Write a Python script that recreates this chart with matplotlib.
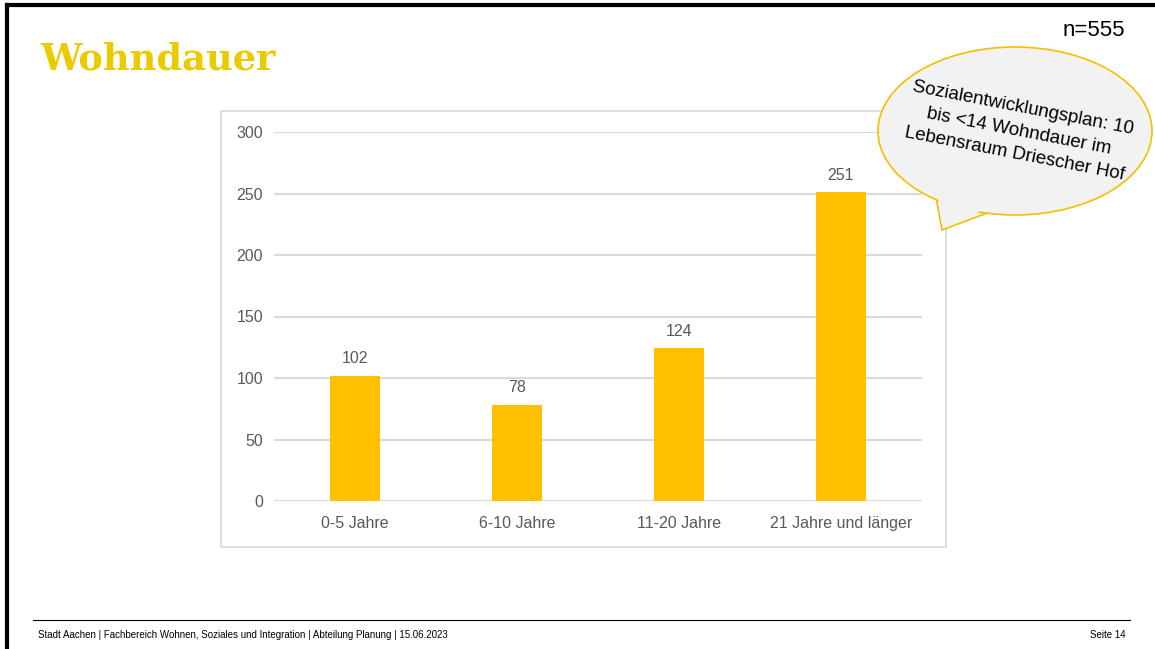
import matplotlib.pyplot as plt
from matplotlib.patches import Ellipse, Polygon, Rectangle
from matplotlib.lines import Line2D

# data
categories = ["0-5 Jahre", "6-10 Jahre", "11-20 Jahre", "21 Jahre und länger"]
counts = [102, 78, 124, 251]
y_ticks = [0, 50, 100, 150, 200, 250, 300]

BAR = "#FFC000"
GREY = "#595959"
NARROW = ["Liberation Sans Narrow", "Liberation Sans", "DejaVu Sans"]

fig = plt.figure(figsize=(11.55, 6.49), dpi=100)
W, H = 1155, 649


def fx(px):
    return px / W


def fy(py):
    return 1 - py / H


# slide frame
fig.add_artist(Line2D([fx(7), 1], [fy(5), fy(5)], color="black", lw=3))
fig.add_artist(Line2D([fx(7), fx(7)], [fy(5), 0], color="black", lw=3))

# chart box
fig.add_artist(Rectangle((fx(221), fy(547)), fx(946) - fx(221), fy(111) - fy(547),
                         fill=False, edgecolor="#D9D9D9", lw=1.2))

ax = fig.add_axes([fx(274), fy(501), fx(922) - fx(274), fy(132) - fy(501)])
x = range(len(categories))
bars = ax.bar(x, counts, width=0.31, color=BAR, zorder=3)
ax.set_xlim(-0.5, len(categories) - 0.5)
ax.set_ylim(0, 300)
ax.set_yticks(y_ticks)
ax.set_xticks(list(x))
ax.set_xticklabels(categories)
ax.grid(axis="y", color="#D9D9D9", lw=1.5, zorder=0)
ax.tick_params(length=0, labelsize=11.5, labelcolor=GREY)
ax.tick_params(axis="y", pad=8)
ax.tick_params(axis="x", pad=11)
for lab in ax.get_xticklabels() + ax.get_yticklabels():
    lab.set_family(NARROW)
for s in ax.spines.values():
    s.set_visible(False)
for b, v in zip(bars, counts):
    ax.annotate(str(v), (b.get_x() + b.get_width() / 2, v), xytext=(0, 7),
                textcoords="offset points", ha="center", va="bottom",
                fontsize=11.5, color=GREY, family=NARROW)

# title and n
fig.text(fx(40), fy(59), "Wohndauer", fontsize=26.5, fontweight="bold",
         family="DejaVu Serif", color="#EACB00", va="center")
fig.text(fx(1125), fy(30), "n=555", fontsize=16, family="Liberation Sans",
         ha="right", va="center")

# speech bubble
tail = Polygon([(fx(935), fy(192)), (fx(942), fy(230)), (fx(990), fy(212))],
               closed=True, facecolor="#F2F2F2", edgecolor="#F2C000", lw=1.2)
fig.add_artist(tail)
bubble = Ellipse((fx(1015), fy(131)), fx(274), fy(47) - fy(215),
                 facecolor="#F2F2F2", edgecolor="#F2C000", lw=1.2)
fig.add_artist(bubble)
fig.add_artist(Polygon([(fx(937), fy(188)), (fx(942), fy(226)), (fx(986), fy(209))],
                       closed=True, facecolor="#F2F2F2", edgecolor="none"))
fig.text(fx(1019), fy(131),
         "Sozialentwicklungsplan: 10\nbis <14 Wohndauer im\nLebensraum Driescher Hof",
         fontsize=13.5, family="Liberation Sans", ha="center", va="center",
         rotation=-11, linespacing=1.45, rotation_mode="anchor")

# footer
fig.add_artist(Line2D([fx(33), fx(1130)], [fy(620), fy(620)], color="black", lw=0.8))
fig.text(fx(38), fy(635), "Stadt Aachen | Fachbereich Wohnen, Soziales und Integration | "
         "Abteilung Planung | 15.06.2023", fontsize=7, family=NARROW, va="center")
fig.text(fx(1126), fy(635), "Seite 14", fontsize=7, family=NARROW, va="center", ha="right")

fig.savefig("out.png", dpi=100)
